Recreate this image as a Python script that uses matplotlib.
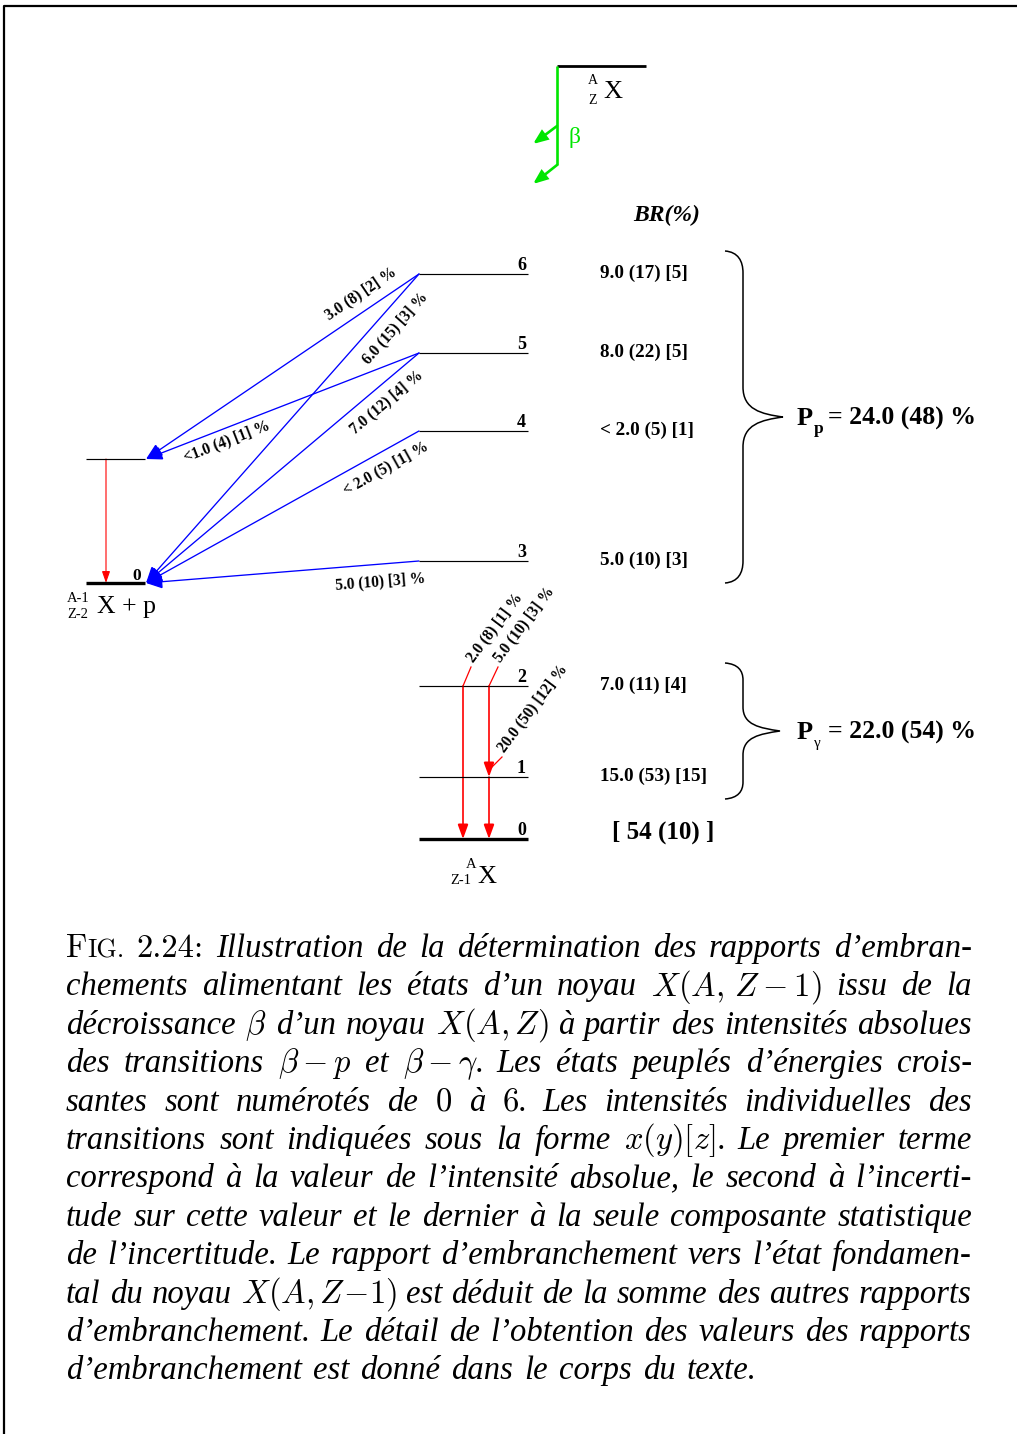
import numpy as np
import matplotlib
matplotlib.use("Agg")
import matplotlib.pyplot as plt
from matplotlib.patches import FancyArrowPatch, PathPatch
from matplotlib.path import Path

# ---------------- data ----------------
emitter_levels = [0, 1, 2, 3, 4, 5, 6]
emitter_energy = [839, 777, 686, 561, 431, 353, 274]      # vertical position of each state (diagram units, downward)
emitter_br = ["[ 54 (10) ]", "15.0 (53) [15]", "7.0 (11) [4]", "5.0 (10) [3]",
              "< 2.0 (5) [1]", "8.0 (22) [5]", "9.0 (17) [5]"]
proton_levels = [0, 1]
proton_energy = [583, 459]
proton_from = [6, 6, 5, 5, 4, 3]
proton_to = [1, 0, 1, 0, 0, 0]
proton_labels = ["3.0 (8) [2] %", "6.0 (15) [3] %", "<1.0 (4) [1] %",
                 "7.0 (12) [4] %", "< 2.0 (5) [1] %", "5.0 (10) [3] %"]
gamma_from = [2, 2, 1]
gamma_to = [0, 1, 0]
gamma_labels = ["2.0 (8) [1] %", "5.0 (10) [3] %", "20.0 (50) [12] %"]
sum_p_text = "= 24.0 (48) %"
sum_g_text = "= 22.0 (54) %"
br_header = "BR(%)"

caption_lines = [
    "FIG. 2.24: Illustration de la détermination des rapports d’embran-",
    r"chements alimentant les états d’un noyau $X(A,\,Z-1)$ issu de la",
    r"décroissance $\beta$ d’un noyau $X(A,Z)$ à partir des intensités absolues",
    r"des transitions $\beta-p$ et $\beta-\gamma$. Les états peuplés d’énergies crois-",
    r"santes sont numérotés de $0$ à $6$. Les intensités individuelles des",
    r"transitions sont indiquées sous la forme $x(y)[z]$. Le premier terme",
    "correspond à la valeur de l’intensité absolue, le second à l’incerti-",
    "tude sur cette valeur et le dernier à la seule composante statistique",
    "de l’incertitude. Le rapport d’embranchement vers l’état fondamen-",
    r"tal du noyau $X(A,Z\!-\!1)$ est déduit de la somme des autres rapports",
    "d’embranchement. Le détail de l’obtention des valeurs des rapports",
    "d’embranchement est donné dans le corps du texte.",
]

# ---------------- layout ----------------
W, H = 1017, 1434
EM_X0, EM_X1 = 419, 528          # emitter level lines
P_X0, P_X1 = 86, 145             # proton-daughter level lines
P_TIP = 146
lab_t = [0.18, 0.137, 0.72, 0.158, 0.151, 0.146]
lab_off = [-16, 17.6, 12.5, 16.6, 16.2, 17.8]
gamma_x = [463, 489, 489]
gamma_leader = [(8, -19), (9, -19), (13, -13)]
BLUE, RED, GREEN = "#0000ff", "#ff0000", "#00e600"
SERIF = "Liberation Serif"

fig = plt.figure(figsize=(W / 100, H / 100), dpi=100)
ax = fig.add_axes([0, 0, 1, 1])
ax.set_xlim(0, W)
ax.set_ylim(H, 0)
ax.axis("off")

# page frame
ax.plot([4, 4, W], [H, 6, 6], color="black", lw=1.6, solid_capstyle="butt")

Ey = dict(zip(emitter_levels, emitter_energy))
Py = dict(zip(proton_levels, proton_energy))


def arrow(p0, p1, color, lw, ms, hl, hw):
    a = FancyArrowPatch(p0, p1, arrowstyle=f"-|>,head_length={hl},head_width={hw}",
                        mutation_scale=ms, color=color, lw=lw, shrinkA=0, shrinkB=0,
                        joinstyle="miter")
    ax.add_patch(a)


# ---- parent and beta decay ----
ax.plot([557, 646], [66, 66], color="black", lw=2.0, solid_capstyle="butt")
ax.plot([557, 557], [66, 165], color=GREEN, lw=1.9, solid_capstyle="butt")
arrow((557, 126), (533, 144), GREEN, 1.9, 8, 1.0, 0.4)
arrow((557, 165), (533, 184), GREEN, 1.9, 8, 1.0, 0.4)
ax.text(575, 138, "β", color=GREEN, family=SERIF, fontsize=17, ha="center", va="center")
ax.text(593, 81, "A", family=SERIF, fontsize=10, ha="center", va="center")
ax.text(593, 101, "Z", family=SERIF, fontsize=10, ha="center", va="center")
ax.text(603, 98, "X", family=SERIF, fontsize=19, ha="left", va="baseline")

ax.text(667, 215, br_header, family=SERIF, fontsize=17, weight="bold", style="italic",
        ha="center", va="center")

# ---- emitter levels ----
for lv, y in zip(emitter_levels, emitter_energy):
    ax.plot([EM_X0, EM_X1], [y, y], color="black", lw=2.4 if lv == 0 else 0.85,
            solid_capstyle="butt")
    ax.text(526, y - 4, str(lv), family=SERIF, fontsize=13, weight="bold",
            ha="right", va="baseline")

# ---- BR column ----
for lv, y, s in zip(emitter_levels, emitter_energy, emitter_br):
    if lv == 0:
        ax.text(612, y, s, family=SERIF, fontsize=18, weight="bold", ha="left", va="baseline")
    else:
        ax.text(600, y + 4, s, family=SERIF, fontsize=13.8, weight="bold", ha="left", va="baseline")

# ---- proton daughter levels ----
for lv, y in zip(proton_levels, proton_energy):
    ax.plot([P_X0, P_X1], [y, y], color="black", lw=2.4 if lv == 0 else 0.85,
            solid_capstyle="butt")
ax.text(141, Py[0] - 3, "0", family=SERIF, fontsize=12.5, weight="bold", ha="right", va="baseline")
arrow((106, Py[1]), (106, Py[0]), RED, 0.8, 7, 1.0, 0.35)

ax.text(67, 598, "A-1", family=SERIF, fontsize=10.5, ha="left", va="center")
ax.text(67, 614, "Z-2", family=SERIF, fontsize=10.5, ha="left", va="center")
ax.text(97, 613, "X + p", family=SERIF, fontsize=18.5, ha="left", va="baseline")

# ---- proton transitions ----
for f, t, lab, tt, off in zip(proton_from, proton_to, proton_labels, lab_t, lab_off):
    x0, y0 = EM_X0, Ey[f]
    x1, y1 = P_TIP, Py[t]
    arrow((x0, y0), (x1, y1), BLUE, 0.95, 10, 1.0, 0.42)
    dx, dy = x1 - x0, y1 - y0
    L = np.hypot(dx, dy)
    nx, ny = dy / L, -dx / L
    cx = x0 + tt * dx + off * nx
    cy = y0 + tt * dy + off * ny
    ang = np.degrees(np.arctan2(-dy, dx))
    if ang > 90:
        ang -= 180
    elif ang <= -90:
        ang += 180
    ax.text(cx, cy, lab, family=SERIF, fontsize=11.2, weight="bold", rotation=ang,
            rotation_mode="anchor", ha="center", va="center")

# ---- gamma transitions ----
for f, t, lab, gx, (lx, ly) in zip(gamma_from, gamma_to, gamma_labels, gamma_x, gamma_leader):
    y0, y1 = Ey[f], Ey[t]
    arrow((gx, y0), (gx, y1), RED, 1.2, 8, 1.1, 0.4)
    ys = y0 if f == 2 else y0 - 7
    ax.plot([gx, gx + lx], [ys, ys + ly], color=RED, lw=0.9)
    ax.text(gx + lx + 2, ys + ly - 4, lab, family=SERIF, fontsize=11.2, weight="bold",
            rotation=53, rotation_mode="anchor", ha="left", va="baseline")

ax.text(471, 864, "A", family=SERIF, fontsize=10.5, ha="center", va="center")
ax.text(450, 880, "Z-1", family=SERIF, fontsize=10.5, ha="left", va="center")
ax.text(477, 883, "X", family=SERIF, fontsize=19, ha="left", va="baseline")


# ---- braces ----
def brace(yt, yb, x0, xv, xt, r_end, r_mid):
    ym = (yt + yb) / 2
    k = (xt - xv) * 0.55
    verts = [(x0, yt),
             (xv - 5, yt + 1), (xv, yt + r_end * 0.45), (xv, yt + r_end),
             (xv, ym - r_mid),
             (xv, ym - r_mid * 0.25), (xt - k, ym - 3), (xt, ym),
             (xt - k, ym + 3), (xv, ym + r_mid * 0.25), (xv, ym + r_mid),
             (xv, yb - r_end),
             (xv, yb - r_end * 0.45), (xv - 5, yb - 1), (x0, yb)]
    codes = [Path.MOVETO] + [Path.CURVE4] * 3 + [Path.LINETO] + [Path.CURVE4] * 6 + \
            [Path.LINETO] + [Path.CURVE4] * 3
    ax.add_patch(PathPatch(Path(verts, codes), fill=False, lw=1.1, color="black"))
    return ym


ymp = brace(Ey[6] - 23, Ey[3] + 22, 725, 743, 783, 22, 30)
ymg = brace(Ey[2] - 23, Ey[1] + 22, 725, 743, 780, 17, 24)

for ym, sub, subkw, s in [(ymp, "p", dict(weight="bold", fontsize=12.5), sum_p_text),
                          (ymg, "γ", dict(fontsize=11), sum_g_text)]:
    ax.text(797, ym + 8, "P", family=SERIF, fontsize=19, weight="bold", ha="left", va="baseline")
    ax.text(813.5, ym + 16, sub, family=SERIF, ha="left", va="baseline", **subkw)
    ax.text(828, ym + 8, s, family=SERIF, fontsize=18.5, weight="bold", ha="left", va="baseline")

# ---- caption (justified) ----
CAP_SIZE = 23.5
CAP_L, CAP_R = 66, 972
BASE0, LEAD = 957, 38.4
renderer = fig.canvas.get_renderer()
cap_kw = dict(family=SERIF, style="italic", fontsize=CAP_SIZE, math_fontfamily="cm")


def make_word(w, y):
    if w == "FIG.":
        segs = [("F", dict(family="cmr10", fontsize=CAP_SIZE)),
                ("IG.", dict(family="cmr10", fontsize=CAP_SIZE * 0.8))]
    elif w == "2.24:":
        segs = [(w, dict(family="cmr10", fontsize=CAP_SIZE))]
    else:
        segs = [(w, cap_kw)]
    out = []
    for s, kw in segs:
        t = ax.text(0, y, s, ha="left", va="baseline", **kw)
        wd = t.get_window_extent(renderer=renderer).width
        out.append((t, wd))
    return out


for i, line in enumerate(caption_lines):
    y = BASE0 + i * LEAD
    words = [make_word(w, y) for w in line.split(" ")]
    widths = [sum(wd for _, wd in w) for w in words]
    if i < len(caption_lines) - 1:
        gap = (CAP_R - CAP_L - sum(widths)) / (len(words) - 1)
    else:
        gap = 11
    x = CAP_L
    for w, wd in zip(words, widths):
        xx = x
        for t, swd in w:
            t.set_x(xx)
            xx += swd
        x += wd + gap

fig.savefig("out.png", dpi=100)
